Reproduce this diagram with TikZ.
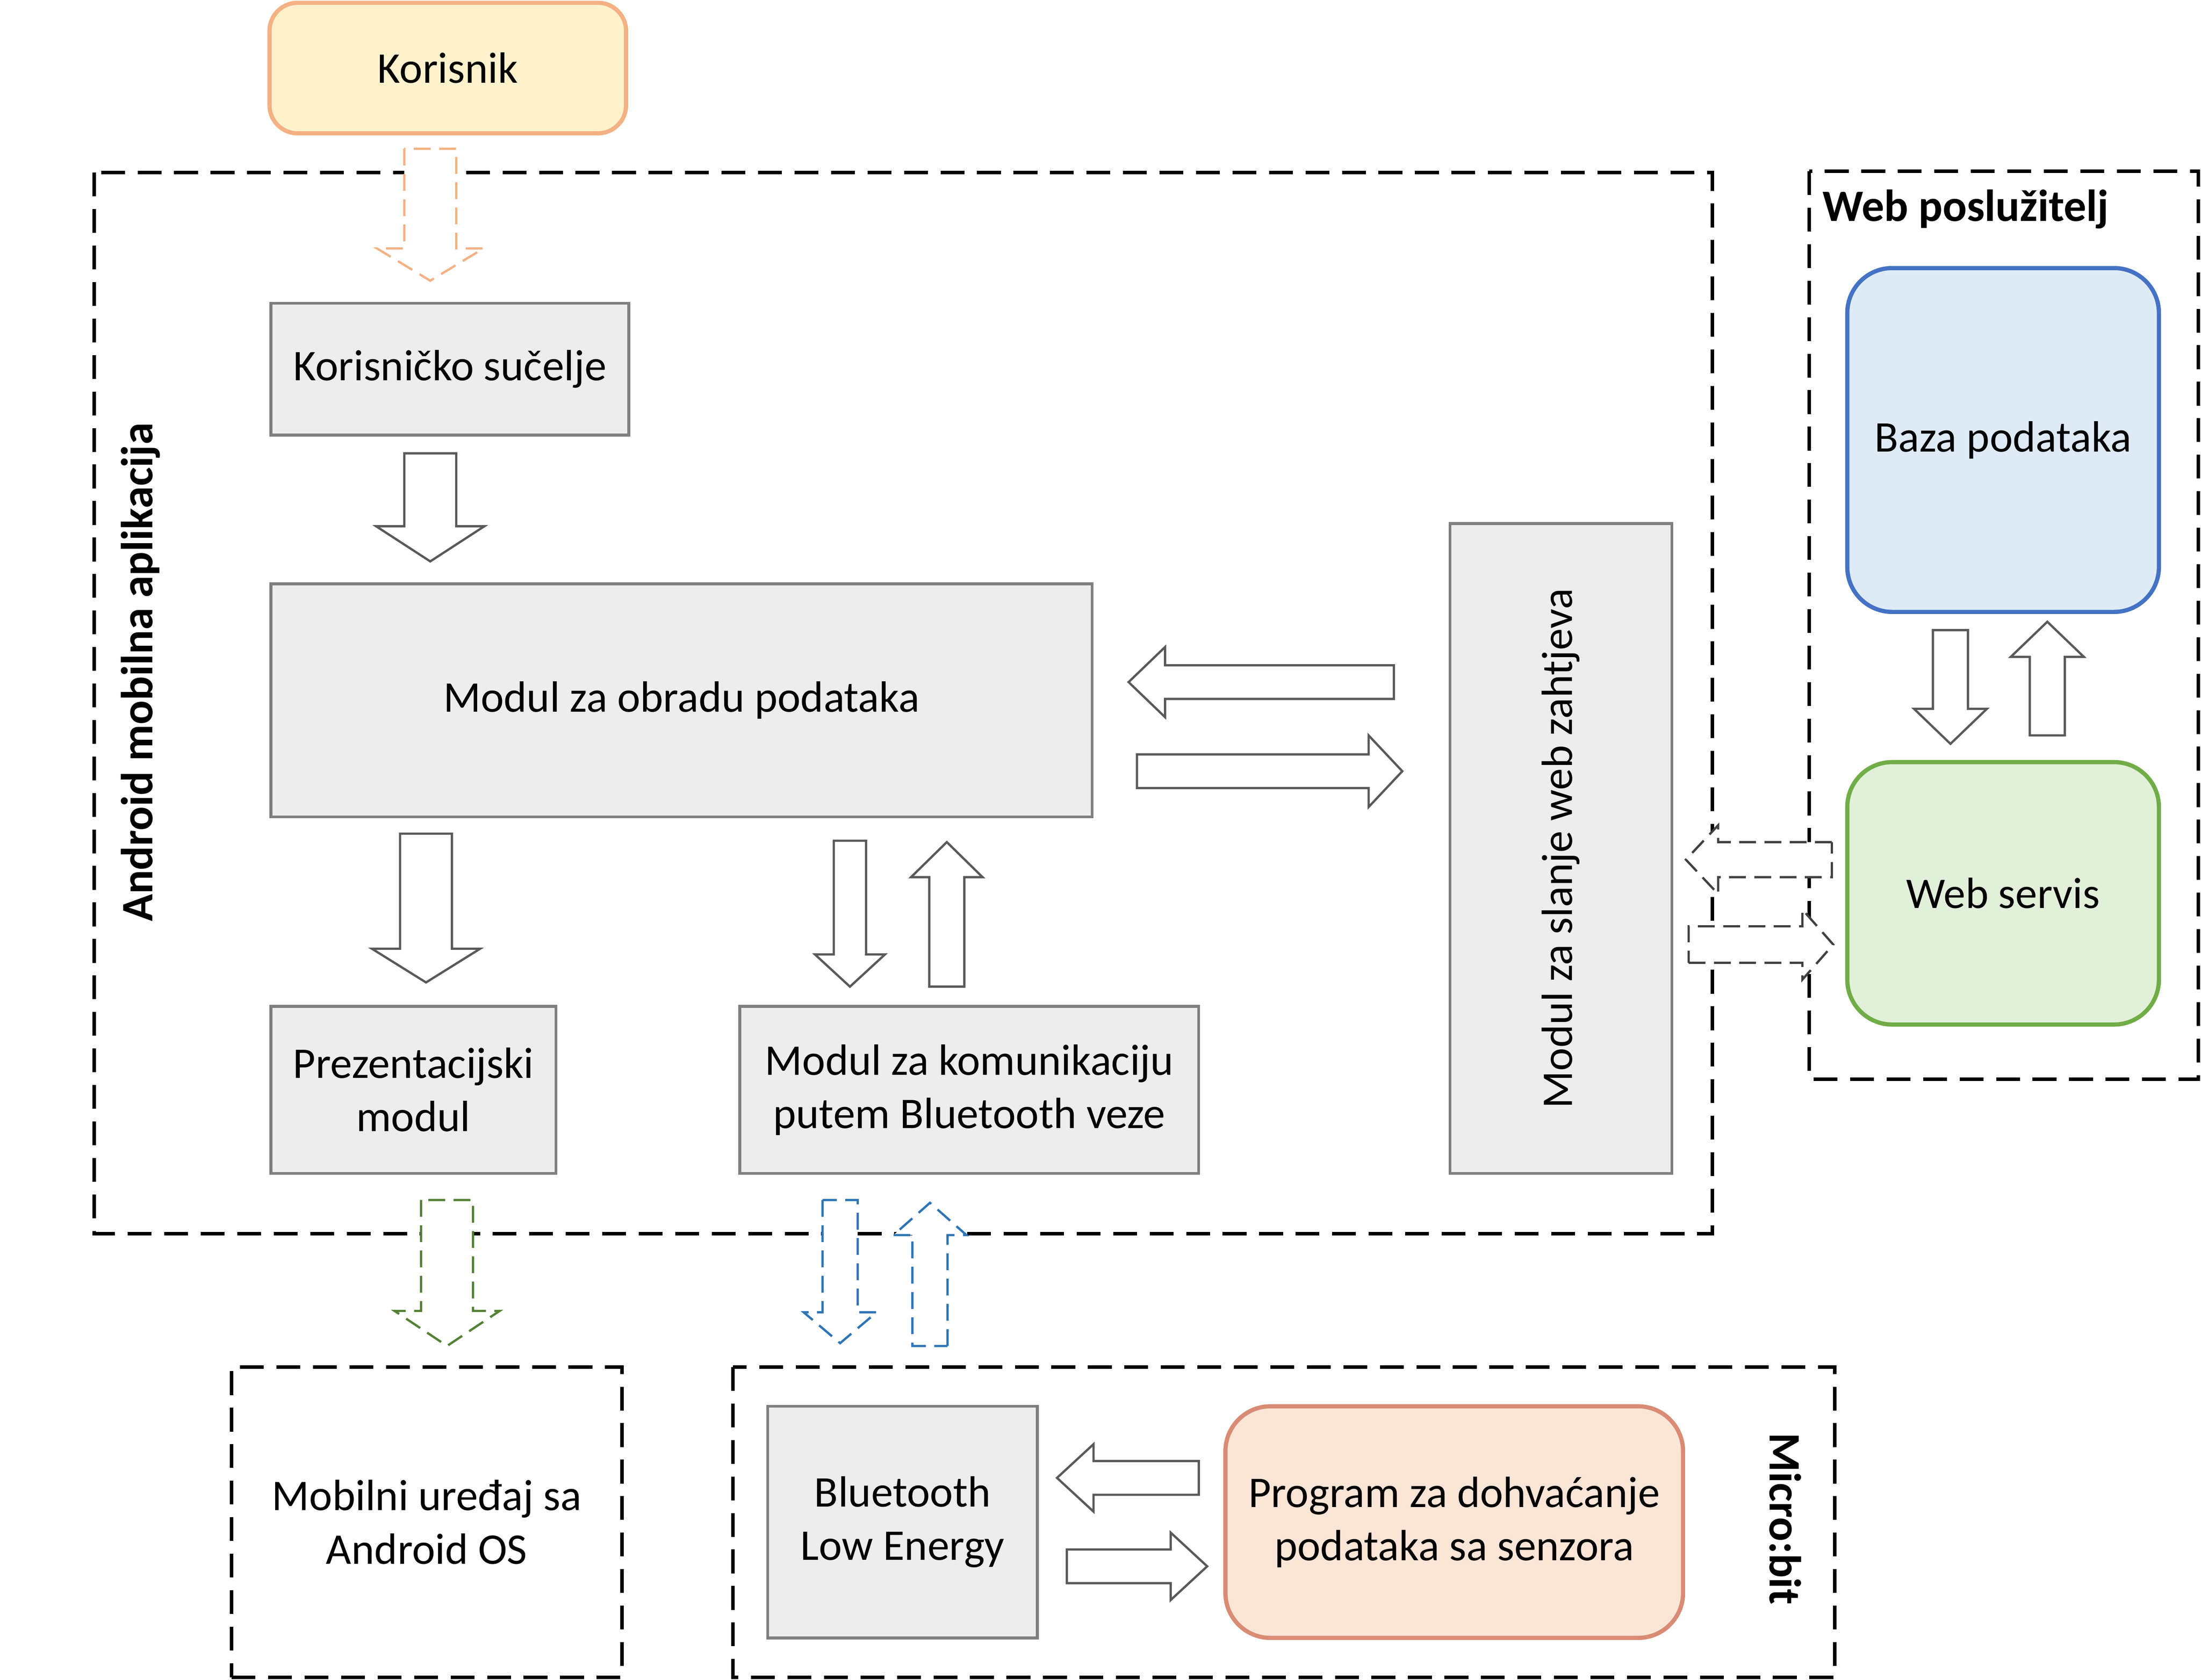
\documentclass[tikz,border=0pt]{standalone}
\usepackage{fontspec}
\setmainfont{Carlito}
\usetikzlibrary{positioning}

\definecolor{userfill}{RGB}{255,242,204}
\definecolor{userdraw}{RGB}{244,177,131}
\definecolor{boxfill}{RGB}{237,237,237}
\definecolor{boxdraw}{RGB}{127,127,127}
\definecolor{dbfill}{RGB}{222,235,247}
\definecolor{dbdraw}{RGB}{68,114,196}
\definecolor{wsfill}{RGB}{226,240,217}
\definecolor{wsdraw}{RGB}{112,173,71}
\definecolor{mbfill}{RGB}{250,229,214}
\definecolor{mbdraw}{RGB}{217,139,116}
\definecolor{arrdraw}{RGB}{89,89,89}
\definecolor{dgreen}{RGB}{84,130,53}
\definecolor{dblue}{RGB}{46,117,182}
\definecolor{dgray}{RGB}{64,64,64}

\tikzset{
  txt/.style={font=\fontsize{15.6}{19}\selectfont, align=center},
  modulebox/.style={txt, draw=boxdraw, fill=boxfill, line width=1pt, inner sep=0pt},
  roundbox/.style={txt, line width=1.5pt, rounded corners=16pt, inner sep=0pt},
  container/.style={line width=1.25pt, dash pattern=on 8.5pt off 4.5pt},
  grouplabel/.style={font=\fontsize{16}{19}\selectfont\bfseries, inner sep=0pt},
  blockarr/.style={draw=arrdraw, fill=white, line width=0.8pt, line join=miter},
  dasharr/.style={fill=white, line width=0.8pt, dash pattern=on 6pt off 3pt},
  % block arrow: length / half shaft / half head / head length
  pics/blockarrow/.style args={#1/#2/#3/#4}{code={
    \draw[pic actions] (0,-#2) -- (#1-#4,-#2) -- (#1-#4,-#3) -- (#1,0)
      -- (#1-#4,#3) -- (#1-#4,#2) -- (0,#2) -- cycle;
  }}
}

\begin{document}
\begin{tikzpicture}[x=0.5pt,y=0.5pt,yscale=-1,xscale=1]
        \useasboundingbox (0,0) rectangle (1568,1197);
        % Groups
        \draw[container] (67,123) rectangle (1220,879);
        \draw[container] (1289,122) rectangle (1566,769);
        \draw[container] (522,974) rectangle (1307,1195);
        \node[grouplabel, rotate=90] (lblAndroid) at (100,479) {Android mobilna aplikacija};
        \node[grouplabel, anchor=west] (lblWeb) at (1298,149) {Web poslužitelj};
        \node[grouplabel, rotate=-90] (lblMicro) at (1272,1082) {Micro:bit};
        % Text Node
        \node[roundbox, draw=userdraw, fill=userfill, rounded corners=10pt, minimum width=127pt, minimum height=46.5pt] (korisnik) at (319,48.5) {Korisnik};
        % Text Node
        \node[modulebox, minimum width=127.5pt, minimum height=47pt] (sucelje) at (320.5,263) {Korisničko sučelje};
        % Text Node
        \node[modulebox, minimum width=292.5pt, minimum height=83pt] (obrada) at (485.5,499) {Modul za obradu podataka};
        % Text Node
        \node[modulebox, minimum width=101.5pt, minimum height=59.5pt] (prezentacija) at (294.5,776.5) {Prezentacijski\\modul};
        % Text Node
        \node[modulebox, minimum width=163.5pt, minimum height=59.5pt] (btmodul) at (690.5,776.5) {Modul za komunikaciju\\putem Bluetooth veze};
        % Text Node
        \node[modulebox, minimum width=79pt, minimum height=231.5pt] (webmodul) at (1112,604.5) {};
        \node[txt, rotate=90] (webmodulTxt) at (webmodul.center) {Modul za slanje web zahtjeva};
        % Text Node
        \node[roundbox, draw=dbdraw, fill=dbfill, minimum width=111pt, minimum height=122.5pt] (baza) at (1427,313.5) {Baza podataka};
        % Text Node
        \node[roundbox, draw=wsdraw, fill=wsfill, minimum width=111pt, minimum height=93.5pt] (servis) at (1427,636.5) {Web servis};
        % Text Node
        \node[txt, draw, container, minimum width=139pt, minimum height=110.5pt] (mobilni) at (304,1084.5) {Mobilni uređaj sa\\Android OS};
        % Text Node
        \node[modulebox, minimum width=96pt, minimum height=82.5pt] (ble) at (643,1084.5) {Bluetooth\\Low Energy};
        % Text Node
        \node[roundbox, draw=mbdraw, fill=mbfill, minimum width=163pt, minimum height=82.5pt] (program) at (1036,1084.5) {Program za dohvaćanje\\podataka sa senzora};

        % Block Arrows
        \pic[dasharr, draw=userdraw, rotate=-90] (arrUser) at (306.5,106) {blockarrow={94/18.5/38/23}};
        \pic[blockarr, rotate=-90] (arrSucelje) at (306.5,323) {blockarrow={77/18.5/38.5/25}};
        \pic[blockarr, rotate=180] (arrWebIn) at (993,486) {blockarrow={189/12/25/26}};
        \pic[blockarr] (arrWebOut) at (810,549.5) {blockarrow={189/12/25.5/24}};
        \pic[blockarr, rotate=-90] (arrPrez) at (303.5,594) {blockarrow={106/18.5/38.5/24}};
        \pic[blockarr, rotate=-90] (arrBtDown) at (605.5,599) {blockarrow={104/11.5/25/23}};
        \pic[blockarr, rotate=90] (arrBtUp) at (674.5,703) {blockarrow={103/12.5/25.5/25}};
        \pic[dasharr, draw=dgreen, rotate=-90] (arrOs) at (318.5,855) {blockarrow={104/18.5/37.5/25}};
        \pic[dasharr, draw=dblue, rotate=-90] (arrBleDown) at (598.5,855) {blockarrow={102/12.5/26/22}};
        \pic[dasharr, draw=dblue, rotate=90] (arrBleUp) at (662.5,959) {blockarrow={102/12.5/26/23}};
        \pic[blockarr, rotate=180] (arrProgIn) at (854,1053) {blockarrow={101/12/24/26}};
        \pic[blockarr] (arrProgOut) at (760,1116) {blockarrow={100/12/24/26}};
        \pic[blockarr, rotate=-90] (arrBazaDown) at (1389.5,449) {blockarrow={81/12.5/26/25}};
        \pic[blockarr, rotate=90] (arrBazaUp) at (1458.5,524) {blockarrow={81/12.5/26/25}};
        \pic[dasharr, draw=dgray, rotate=180] (arrServisIn) at (1305,612.5) {blockarrow={104/12.5/24.5/23}};
        \pic[dasharr, draw=dgray] (arrServisOut) at (1203,673) {blockarrow={103/13/25/22}};
    \end{tikzpicture}
\end{document}
